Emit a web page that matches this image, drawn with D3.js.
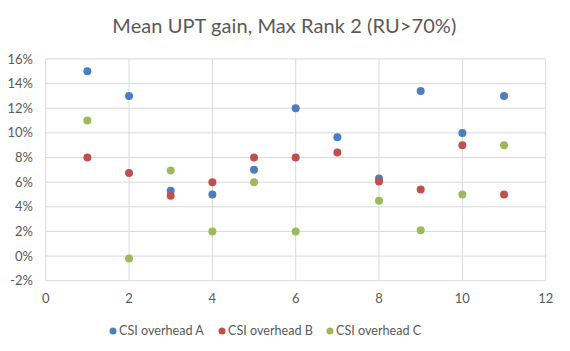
<!DOCTYPE html>
<html><head><meta charset="utf-8">
<script src="https://cdn.jsdelivr.net/npm/d3@7"></script>
<style>body{margin:0;background:#fff}svg{display:block;font-family:Lato,"Open Sans",sans-serif}</style>
</head><body>
<svg id="c" width="570" height="351"></svg>
<script>
const xs = [1,2,3,4,5,6,7,8,9,10,11];
const seriesA = [15.0,13.0,5.3,5.0,7.0,12.0,9.65,6.3,13.4,10.0,13.0];
const seriesB = [8.0,6.75,4.9,6.0,8.0,8.0,8.4,6.05,5.4,9.0,5.0];
const seriesC = [11.0,-0.2,6.95,2.0,6.0,2.0,null,4.5,2.1,5.0,9.0];
const seriesNames = ["CSI overhead A","CSI overhead B","CSI overhead C"];
const colors = ["#4A7EC1","#C0504D","#9BBB59"];
const xTicks = [0,2,4,6,8,10,12];
const yTicks = [-2,0,2,4,6,8,10,12,14,16];
const title = "Mean UPT gain, Max Rank 2 (RU>70%)";

const svg = d3.select("#c");
const x = d3.scaleLinear().domain([0,12]).range([45.7,545.7]);
const y = d3.scaleLinear().domain([-2,16]).range([280.7,59]);

svg.append("rect").attr("width",570).attr("height",351).attr("fill","#fff");

const grid = svg.append("g");
grid.selectAll("line.h").data(yTicks).join("line")
  .attr("x1",x(0)).attr("x2",x(12)).attr("y1",d=>y(d)).attr("y2",d=>y(d))
  .attr("stroke","#D9D9D9").attr("stroke-width",1);
grid.selectAll("line.v").data(xTicks).join("line")
  .attr("y1",y(-2)).attr("y2",y(16)).attr("x1",d=>x(d)).attr("x2",d=>x(d))
  .attr("stroke","#D9D9D9").attr("stroke-width",1);

svg.append("g").selectAll("text").data(yTicks).join("text")
  .attr("x",33).attr("y",d=>y(d)).attr("dy","0.35em").attr("text-anchor","end")
  .attr("font-size",13).attr("fill","#595959").text(d=>d+"%");
svg.append("g").selectAll("text").data(xTicks).join("text")
  .attr("x",d=>x(d)).attr("y",298).attr("dy","0.35em").attr("text-anchor","middle")
  .attr("font-size",13).attr("fill","#595959").text(d=>d);

const all = [seriesA,seriesB,seriesC];
all.forEach((s,i)=>{
  svg.append("g").selectAll("circle").data(xs.map((d,j)=>[d,s[j]]).filter(d=>d[1]!=null)).join("circle")
    .attr("cx",d=>x(d[0])).attr("cy",d=>y(d[1])).attr("r",4).attr("fill",colors[i]);
});

svg.append("text").attr("x",112.3).attr("y",32.5).attr("text-anchor","start")
  .attr("font-size",20).attr("fill","#595959")
  .attr("textLength",344).attr("lengthAdjust","spacing").text(title);

const legX = [113,222,330];
seriesNames.forEach((n,i)=>{
  svg.append("circle").attr("cx",legX[i]).attr("cy",331).attr("r",3.5).attr("fill",colors[i]);
  svg.append("text").attr("x",legX[i]+6).attr("y",331).attr("dy","0.35em")
    .attr("font-size",12.6).attr("fill","#595959").text(n);
});
</script>
</body></html>
